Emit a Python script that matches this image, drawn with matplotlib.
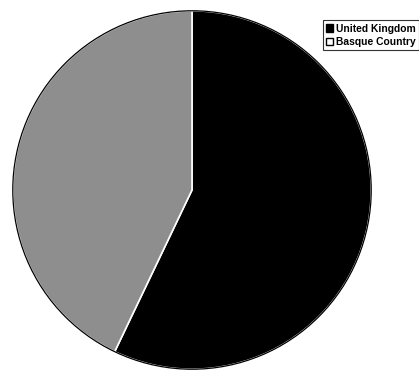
import matplotlib.pyplot as plt
from matplotlib.patches import Patch, Circle

# share of each region
labels = ['United Kingdom', 'Basque Country']
shares = [57.1, 42.9]
colors = ['#000000', '#8e8e8e']

plt.rcParams['font.family'] = ['Liberation Sans', 'DejaVu Sans']

fig = plt.figure(figsize=(4.19, 3.72), dpi=100)
ax = fig.add_axes([11 / 419, 1 / 372, 362 / 419, 362 / 372])

wedges, _ = ax.pie(shares, colors=colors, startangle=90, counterclock=False,
                   radius=1.0,
                   wedgeprops=dict(edgecolor='white', linewidth=1.2))
ax.add_patch(Circle((0, 0), 1.0, fill=False, edgecolor='black', linewidth=0.9))
ax.set_xlim(-1.01, 1.01)
ax.set_ylim(-1.01, 1.01)
ax.set_aspect('equal')
ax.axis('off')

handles = [Patch(facecolor='black', edgecolor='black', label=labels[0]),
           Patch(facecolor='white', edgecolor='black', label=labels[1])]
leg = fig.legend(handles=handles, loc='upper right', bbox_to_anchor=(1.0, 0.945),
                 frameon=True, fancybox=False, fontsize=7.4, handlelength=0.7,
                 handleheight=0.7, handletextpad=0.3, borderpad=0.3,
                 labelspacing=0.35, borderaxespad=0)
leg.get_frame().set_edgecolor('black')
leg.get_frame().set_linewidth(0.8)
for t in leg.get_texts():
    t.set_fontweight('bold')

fig.savefig('out.png', dpi=100)
